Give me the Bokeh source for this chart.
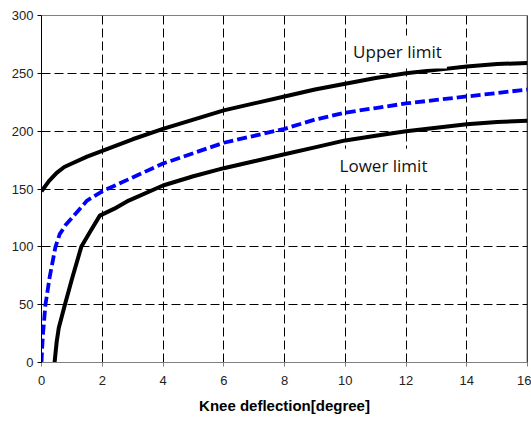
from bokeh.plotting import figure
from bokeh.models import Label, Span, FixedTicker, Range1d
from bokeh.embed import file_html
from bokeh.resources import INLINE

# ---- data ----
upper_x = [0, 0.25, 0.5, 0.75, 1, 1.5, 2, 3, 4, 5, 6, 7, 8, 9, 10, 11, 12, 13, 14, 15, 16]
upper_y = [148, 157, 164, 169, 172, 178, 183, 193, 202, 210, 218, 224, 230, 236, 241, 246, 250, 253, 256, 258, 259]

mid_x = [0, 0.02, 0.05, 0.13, 0.27, 0.46, 0.6, 0.8, 1.0, 1.5, 2, 3, 4, 5, 6, 7, 8, 9, 10, 11, 12, 13, 14, 15, 16]
mid_y = [0, 12, 25, 50, 74, 100, 111, 119, 125, 140, 148, 160, 172, 181, 190, 196, 202, 210, 216, 220, 224, 227, 230, 233, 236]

lower_x = [0.43, 0.5, 0.57, 0.77, 1.0, 1.31, 1.6, 1.92, 2.4, 2.87, 4, 5, 6, 7, 8, 9, 10, 11, 12, 13, 14, 15, 16]
lower_y = [0, 18, 30, 50, 72, 100, 113, 127, 133, 140, 153, 161, 168, 174, 180, 186, 192, 196, 200, 203, 206, 208, 209]

x_ticks = [0, 2, 4, 6, 8, 10, 12, 14, 16]
y_ticks = [0, 50, 100, 150, 200, 250, 300]
x_label = "Knee deflection[degree]"
upper_label = "Upper limit"
lower_label = "Lower limit"

p = figure(frame_width=486, frame_height=347,
           min_border_left=41, min_border_right=4, min_border_top=15, min_border_bottom=54,
           x_range=Range1d(0, 16), y_range=Range1d(0, 300),
           output_backend="svg", toolbar_location=None,
           background_fill_color="white", border_fill_color="white")

p.outline_line_color = "#808080"
p.outline_line_width = 1

for ax in (p.xaxis[0], p.yaxis[0]):
    ax.major_label_text_font = "Liberation Sans"
    ax.major_label_text_font_size = "13px"
    ax.major_label_text_color = "#222222"
    ax.minor_tick_line_color = None
    ax.major_tick_in = 0
    ax.major_tick_out = 4

p.xaxis.ticker = FixedTicker(ticks=x_ticks)
p.yaxis.ticker = FixedTicker(ticks=y_ticks)
p.xaxis.axis_line_color = "#808080"
p.xaxis.major_tick_line_color = "#808080"
p.xaxis.major_label_standoff = 9
p.xaxis.axis_label = x_label
p.xaxis.axis_label_text_font = "Liberation Sans"
p.xaxis.axis_label_text_font_style = "bold"
p.xaxis.axis_label_text_font_size = "15px"
p.xaxis.axis_label_text_color = "#000000"
p.xaxis.axis_label_standoff = 9

p.yaxis.axis_line_color = "black"
p.yaxis.major_tick_line_color = "black"
p.yaxis.major_label_standoff = 4

for g in (p.xgrid[0], p.ygrid[0]):
    g.grid_line_color = "black"
    g.grid_line_dash = "9 4"
    g.grid_line_width = 1
p.xgrid.ticker = FixedTicker(ticks=x_ticks[1:-1])
p.ygrid.ticker = FixedTicker(ticks=y_ticks[1:-1])

p.add_layout(Span(location=16, dimension="height", line_color="black", line_width=1.5))

p.line(upper_x, upper_y, line_color="black", line_width=4)
p.line(lower_x, lower_y, line_color="black", line_width=4)
p.line(mid_x, mid_y, line_color="#0000FF", line_width=3.8, line_dash="10 4")

for txt, x, y in ((upper_label, 11.72, 268.5), (lower_label, 11.26, 170.5)):
    p.add_layout(Label(x=x, y=y, text=txt, text_align="center", text_baseline="alphabetic",
                       text_font="Open Sans", text_font_size="17px", text_color="#111111",
                       background_fill_color="white", background_fill_alpha=1.0,
                       padding=5))

open("out.html", "w").write(file_html(p, INLINE))
